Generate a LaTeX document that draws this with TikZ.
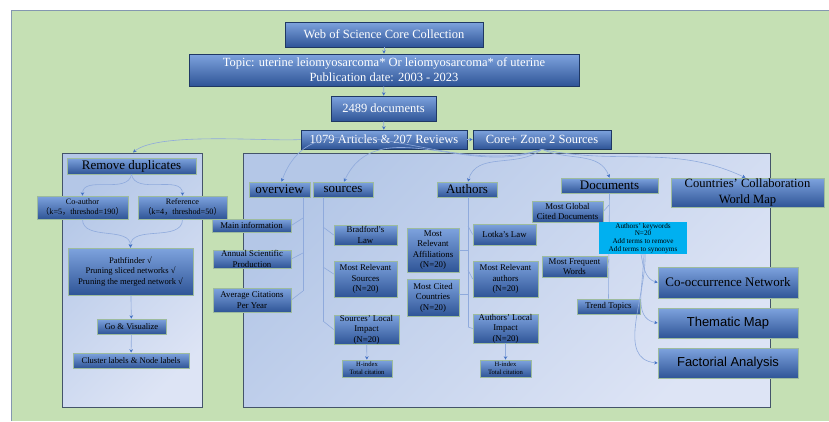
\documentclass[tikz,border=0pt]{standalone}
\usepackage{fontspec}
\setmainfont{Liberation Serif}
\newfontfamily\arialfont{Liberation Sans}
\newfontfamily\cjkfont{Noto Sans CJK SC}
\usetikzlibrary{positioning,calc,arrows.meta,shapes}

\definecolor{bggreen}{HTML}{C5E0B4}
\definecolor{bgedge}{HTML}{8497B0}
\definecolor{boxtop}{HTML}{7EA3DE}
\definecolor{boxbot}{HTML}{2F5597}
\definecolor{navyline}{HTML}{1F3864}
\definecolor{greyedge}{HTML}{9DBB9D}
\definecolor{linkblue}{HTML}{8FAADC}
\definecolor{tipblue}{HTML}{4472C4}
\definecolor{panedge}{HTML}{44546A}
\definecolor{panetop}{HTML}{B4C7E7}
\definecolor{panebot}{HTML}{DDE4F5}
\definecolor{kwcyan}{HTML}{00B0F0}

\newcommand{\fsz}[2]{\fontsize{#1}{#2}\selectfont}
\newcommand{\fw}[1]{{\cjkfont #1}}

\tikzset{
  box/.style={rectangle, inner sep=0pt, align=center, top color=boxtop,
    bottom color=boxbot, draw=greyedge, line width=0.6pt, text=black,
    font=\fsz{8.8}{10.5}},
  topbox/.style={box, draw=navyline, text=white, font=\fsz{12.5}{15}},
  headbox/.style={box, font=\fsz{13}{15.5}},
  smallbox/.style={box, font=\fsz{6.6}{8}},
  kwbox/.style={rectangle, fill=kwcyan, inner sep=0pt, align=center,
    font=\fsz{7.2}{7.8}},
  pane/.style={rectangle, draw=panedge, line width=1pt, top color=panetop,
    bottom color=panebot, shading angle=45},
  link/.style={draw=linkblue, line width=0.6pt,
    -{Stealth[length=3.5pt,width=3.5pt,color=tipblue]}},
  branch/.style={draw=linkblue, line width=0.6pt}
}

\begin{document}
\begin{tikzpicture}[x=1pt,y=-1pt]
  \useasboundingbox (0,0) rectangle (829,421);
  \fill[white] (0,0) rectangle (829,421);
  \fill[bggreen] (11,10) rectangle (829,421);
  \draw[bgedge] (11,421) -- (11,10) -- (829,10);

  % panels
  \node[pane, minimum width=140pt, minimum height=254pt] (lpane) at (132,280) {};
  \node[pane, minimum width=527pt, minimum height=254pt] (rpane) at (506.5,280) {};

  % search chain
  \node[topbox, minimum width=198pt, minimum height=25pt] (wos) at (384,34.5) {Web of Science Core Collection};
  \node[topbox, minimum width=390pt, minimum height=32pt] (topic) at (384,70) {Topic: uterine leiomyosarcoma* Or leiomyosarcoma* of uterine\\Publication date: 2003 - 2023};
  \node[topbox, minimum width=105pt, minimum height=25pt] (docs) at (383.5,108.5) {2489 documents};
  \node[topbox, minimum width=166pt, minimum height=19pt] (art) at (384,139.5) {1079 Articles \& 207 Reviews};
  \node[topbox, minimum width=138pt, minimum height=19pt] (core) at (542,139.5) {Core+ Zone 2 Sources};

  % left panel
  \node[headbox, minimum width=129pt, minimum height=16pt] (rmdup) at (131.5,166) {Remove duplicates};
  \node[box, font=\fsz{8.2}{10}, minimum width=91pt, minimum height=23pt] (coauth) at (82.5,207.5) {Co-author\\\fw{（}k=5\fw{，}threshod=190\fw{）}};
  \node[box, font=\fsz{8.2}{10}, minimum width=89pt, minimum height=23pt] (ref) at (182.5,207.5) {Reference\\\fw{（}k=4\fw{，}threshod=50\fw{）}};
  \node[box, font=\fsz{8.6}{10.5}, minimum width=125pt, minimum height=47pt] (pathf) at (130.5,271.5) {Pathfinder √\\Pruning sliced networks √\\Pruning the merged network √};
  \node[box, font=\fsz{8.6}{10.5}, minimum width=69pt, minimum height=15pt] (govis) at (131.5,326.5) {Go \& Visualize};
  \node[box, font=\fsz{8.6}{10.5}, minimum width=116pt, minimum height=15pt] (clust) at (131,360.5) {Cluster labels \& Node labels};

  % right panel heads
  \node[headbox, minimum width=61pt, minimum height=15pt] (overview) at (279.5,189.5) {overview};
  \node[headbox, minimum width=60pt, minimum height=15pt] (sources) at (343,189.5) {sources};
  \node[headbox, minimum width=60pt, minimum height=15pt] (authors) at (467,189.5) {Authors};
  \node[headbox, minimum width=97pt, minimum height=15pt] (documents) at (609.5,185.5) {Documents};
  \node[headbox, font=\fsz{12.6}{15.5}, minimum width=153pt, minimum height=29pt] (countries) at (747.5,192.5) {Countries' Collaboration\\World Map};

  % overview
  \node[box, minimum width=79pt, minimum height=13pt] (maininfo) at (251.5,225.5) {Main information};
  \node[box, minimum width=78pt, minimum height=18pt] (annual) at (252,259) {Annual Scientific\\Production};
  \node[box, minimum width=78pt, minimum height=24pt] (avgcit) at (252,300) {Average Citations\\Per Year};

  % sources
  \node[box, minimum width=63pt, minimum height=20pt] (bradford) at (365.5,235) {Bradford's\\Law};
  \node[box, minimum width=63pt, minimum height=36pt] (mrsources) at (365.5,279) {Most Relevant\\Sources\\(N=20)};
  \node[box, minimum width=65pt, minimum height=29pt] (slimpact) at (366.5,329.5) {Sources' Local\\Impact\\(N=20)};
  \node[smallbox, minimum width=50pt, minimum height=17pt] (hidxa) at (367,368.5) {H-index\\Total citation};

  % authors
  \node[box, minimum width=52pt, minimum height=44pt] (mraffil) at (433,250) {Most\\Relevant\\Affiliations\\(N=20)};
  \node[box, minimum width=52pt, minimum height=37pt] (mccount) at (433,297.5) {Most Cited\\Countries\\(N=20)};
  \node[box, minimum width=63pt, minimum height=21pt] (lotka) at (504.5,234.5) {Lotka's Law};
  \node[box, minimum width=65pt, minimum height=36pt] (mrauth) at (505.5,279) {Most Relevant\\authors\\(N=20)};
  \node[box, minimum width=65pt, minimum height=29pt] (alimpact) at (505.5,328.5) {Authors' Local\\Impact\\(N=20)};
  \node[smallbox, minimum width=51pt, minimum height=17pt] (hidxb) at (505.5,368.5) {H-index\\Total citation};

  % documents
  \node[box, minimum width=71pt, minimum height=21pt] (mgcited) at (567.5,211.5) {Most Global\\Cited Documents};
  \node[box, minimum width=65pt, minimum height=21pt] (mfwords) at (574.5,266.5) {Most Frequent\\Words};
  \node[box, minimum width=63pt, minimum height=15pt] (trend) at (608.5,306.5) {Trend Topics};
  \node[headbox, minimum width=140pt, minimum height=31pt] (cooc) at (728,282.5) {Co-occurrence Network};
  \node[headbox, font=\arialfont\fsz{13}{15}, minimum width=140pt, minimum height=30pt] (thematic) at (728,323) {Thematic Map};
  \node[headbox, font=\arialfont\fsz{13}{15}, minimum width=140pt, minimum height=30pt] (factorial) at (728,363) {Factorial Analysis};

  % trunk points
  \coordinate (ova) at (303,218);
  \coordinate (ovb) at (303,253);
  \coordinate (ovc) at (303,291);
  \coordinate (sra) at (323,227);
  \coordinate (srb) at (323,267);
  \coordinate (src) at (323,321);
  \coordinate (aua) at (468,226);
  \coordinate (aub) at (468,270);
  \coordinate (auc) at (468,327);
  \coordinate (doa) at (609,205);
  \coordinate (dob) at (609,259);

  % trunks and branches
  \draw[branch] (overview.south -| ovc) -- (ovc);
  \draw[branch] (maininfo.east) -- (ova);
  \draw[branch] (annual.east) -- (ovb);
  \draw[branch] (avgcit.east) -- (ovc);
  \draw[branch] (sources.south -| src) -- (src);
  \draw[branch] (sra) -- (bradford.west);
  \draw[branch] (srb) -- ($(mrsources.west)+(0,-5)$);
  \draw[branch] (src) -- (slimpact.west);
  \draw[branch] (authors.south -| auc) -- (auc);
  \draw[branch] (mraffil.east) -- (mraffil.east -| auc);
  \draw[branch] ($(mccount.east)+(0,-3)$) -- ($(mccount.east -| auc)+(0,-3)$);
  \draw[branch] (aua) -- (lotka.west);
  \draw[branch] (aub) -- (mrauth.west);
  \draw[branch] (auc) -- (alimpact.west);
  \draw[branch] (documents.south) -- (trend.north);
  \draw[branch] (mgcited.east) -- (doa);
  \draw[branch] (mfwords.east) -- (dob);
  \node[kwbox, minimum width=88pt, minimum height=32pt] (kw) at (643,238) {Authors' keywords\\N=20\\Add terms to remove\\Add terms to synonyms};

  % arrows
  \draw[link] (wos) -- (topic);
  \draw[link] (topic) -- (docs);
  \draw[link] (docs) -- (art);
  \draw[link] (art) -- (core);
  \draw[link] (art.west) to[out=184,in=40,looseness=0.5] ($(lpane.north)+(1,0)$);
  \draw[link] (core.south) to[out=198,in=70] ($(overview.north)+(2,0)$);
  \draw[link] (core.south) to[out=202,in=65] ($(sources.north)+(1,0)$);
  \draw[link] (core.south) to[out=218,in=75] ($(authors.north)+(1,0)$);
  \draw[link] (core.south) to[out=-25,in=110] (documents.north);
  \draw[link] (core.south) to[out=-12,in=155] ($(countries.north)+(-2,0)$);

  \draw[link] (rmdup.south) to[out=-100,in=90] (coauth.north);
  \draw[link] (rmdup.south) to[out=-80,in=90] (ref.north);
  \draw[link] (coauth.south) to[out=-90,in=90] (pathf.north);
  \draw[link] (ref.south) to[out=-90,in=90] (pathf.north);
  \draw[link] (pathf) -- (govis);
  \draw[link] (govis) -- (clust);

  \draw[link] (slimpact) -- (hidxa);
  \draw[link] (alimpact) -- (hidxb);

  \draw[link] ($(kw.south)+(-2,0)$) to[out=-80,in=165] (cooc.west);
  \draw[link] ($(kw.south)+(0,0)$) to[out=-85,in=170] (thematic.west);
  \draw[link] ($(kw.south)+(2,0)$) to[out=-88,in=175] (factorial.west);
\end{tikzpicture}
\end{document}
